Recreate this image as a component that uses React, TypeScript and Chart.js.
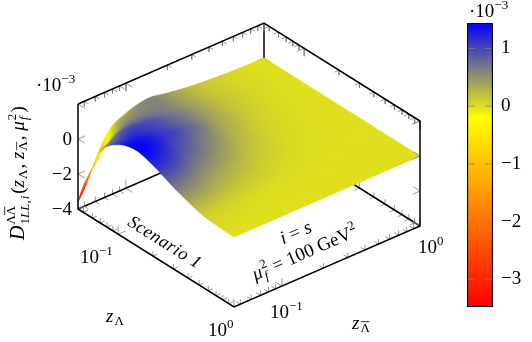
import React, { useEffect, useRef } from "react";
import { Chart, registerables } from "chart.js";

Chart.register(...registerables);

// ---- data ----
const zLambda = [0.045, 0.05, 0.06, 0.07, 0.08, 0.1, 0.12, 0.15, 0.2, 0.25, 0.3, 0.4, 0.5, 0.6, 0.8, 1];
const zBar = [0.045, 0.05, 0.06, 0.07, 0.08, 0.1, 0.12, 0.15, 0.2, 0.3, 0.4, 0.6, 1];
// D values (x 10^-3); one row per zLambda, one column per zBar
const row00 = [-3.6, -3.0, -1.65, -0.65, -0.08, 0.28, 0.48, 0.58, 0.4, 0.2, 0.12, 0.04, 0];
const row01 = [-2.5, -2.0, -0.9, -0.1, 0.28, 0.48, 0.56, 0.58, 0.42, 0.2, 0.12, 0.04, 0];
const row02 = [-1.1, -0.7, 0.0, 0.4, 0.58, 0.62, 0.62, 0.58, 0.42, 0.2, 0.12, 0.04, 0];
const row03 = [0.12, 0.3, 0.68, 0.8, 0.82, 0.78, 0.7, 0.6, 0.43, 0.21, 0.12, 0.04, 0];
const row04 = [0.62, 0.75, 0.95, 1.0, 0.98, 0.9, 0.78, 0.64, 0.45, 0.21, 0.12, 0.04, 0];
const row05 = [1.12, 1.15, 1.18, 1.12, 1.05, 0.93, 0.8, 0.66, 0.43, 0.2, 0.11, 0.03, 0];
const row06 = [1.36, 1.35, 1.3, 1.2, 1.1, 0.97, 0.83, 0.66, 0.4, 0.18, 0.09, 0.03, 0];
const row07 = [1.44, 1.4, 1.28, 1.15, 1.0, 0.85, 0.7, 0.55, 0.33, 0.14, 0.07, 0.02, 0];
const row08 = [1.2, 1.16, 1.05, 0.92, 0.8, 0.66, 0.54, 0.41, 0.24, 0.1, 0.05, 0.01, 0];
const row09 = [0.92, 0.89, 0.8, 0.7, 0.6, 0.49, 0.4, 0.3, 0.17, 0.07, 0.03, 0.01, 0];
const row10 = [0.68, 0.66, 0.59, 0.52, 0.44, 0.36, 0.29, 0.21, 0.12, 0.05, 0.02, 0.01, 0];
const row11 = [0.38, 0.37, 0.33, 0.29, 0.24, 0.19, 0.15, 0.11, 0.06, 0.02, 0.01, 0, 0];
const row12 = [0.17, 0.16, 0.14, 0.12, 0.1, 0.08, 0.06, 0.04, 0.02, 0.01, 0, 0, 0];
const row13 = [0.08, 0.07, 0.06, 0.05, 0.04, 0.03, 0.02, 0.01, 0.01, 0, 0, 0, 0];
const row14 = [0.02, 0.02, 0.01, 0.01, 0.01, 0.01, 0, 0, 0, 0, 0, 0, 0];
const row15 = [0, 0, 0, 0, 0, 0, 0, 0, 0, 0, 0, 0, 0];
const surfaceRows = [row00, row01, row02, row03, row04, row05, row06, row07, row08, row09, row10, row11, row12, row13, row14, row15];

const logMajorTicks = [0.1, 1];
const logMinorTicks = [0.05, 0.06, 0.07, 0.08, 0.09, 0.2, 0.3, 0.4, 0.5, 0.6, 0.7, 0.8, 0.9];
const dTicks = [-4, -2, 0, 2];
const colorbarTicks = [1, 0, -1, -2, -3];
const colorMin = -3.48;
const colorYellow = -0.2;
const colorMax = 1.44;

// ---- view of the 3D box ----
const SERIF = '"Liberation Serif", serif';
const LOG_MIN = Math.log10(0.045);
const D_MIN = -4;
const D_MAX = 2;
const VIEW = { ox: 78, oy: 209, ux: 156, uy: 98, vx: 186, vy: -81, dy: -17.5 };

const uOf = (z: number) => (Math.log10(z) - LOG_MIN) / -LOG_MIN;
function project(zl: number, zb: number, d: number) {
  const u = uOf(zl);
  const v = uOf(zb);
  return {
    x: VIEW.ox + VIEW.ux * u + VIEW.vx * v,
    y: VIEW.oy + VIEW.uy * u + VIEW.vy * v + VIEW.dy * (d - D_MIN),
  };
}

function colorOf(d: number): [number, number, number] {
  if (d <= colorYellow) {
    const t = Math.max(0, (d - colorMin) / (colorYellow - colorMin));
    return [255, 255 * t, 0];
  }
  const t = Math.min(1, (d - colorYellow) / (colorMax - colorYellow));
  return [255 * (1 - t), 255 * (1 - t), 255 * t];
}

type P = { x: number; y: number };
const GAP: P = { x: NaN, y: NaN };

function unit(a: P, b: P): P {
  const dx = b.x - a.x;
  const dy = b.y - a.y;
  const l = Math.hypot(dx, dy);
  return { x: dx / l, y: dy / l };
}

const ZMIN = 0.045;
const dirU = unit(project(ZMIN, ZMIN, 0), project(1, ZMIN, 0));
const dirV = unit(project(ZMIN, ZMIN, 0), project(ZMIN, 1, 0));
const dirD = { x: 0, y: -1 };
const neg = (p: P): P => ({ x: -p.x, y: -p.y });

function fork(out: P[], p: P, a: P, b: P, len: number) {
  out.push({ x: p.x + a.x * len, y: p.y + a.y * len }, p, { x: p.x + b.x * len, y: p.y + b.y * len }, GAP);
}

const MAJ = 8;
const MIN = 5;
function logTicks(out: P[], at: (t: number) => P, a: P, b: P) {
  logMajorTicks.forEach((t) => fork(out, at(t), a, b, MAJ));
  logMinorTicks.forEach((t) => fork(out, at(t), a, b, MIN));
}

function buildTicks() {
  const back: P[] = [];
  const front: P[] = [];
  logTicks(front, (t) => project(t, ZMIN, D_MIN), dirV, dirD);
  logTicks(front, (t) => project(1, t, D_MIN), neg(dirU), dirD);
  logTicks(front, (t) => project(ZMIN, t, D_MAX), dirU, neg(dirD));
  logTicks(front, (t) => project(t, 1, D_MAX), neg(dirV), neg(dirD));
  logTicks(back, (t) => project(ZMIN, t, D_MIN), dirU, dirD);
  logTicks(back, (t) => project(t, 1, D_MIN), neg(dirV), dirD);
  dTicks.forEach((d) => {
    fork(front, project(ZMIN, ZMIN, d), dirU, dirV, MAJ);
    fork(front, project(1, 1, d), neg(dirU), neg(dirV), MAJ);
    fork(back, project(ZMIN, 1, d), dirU, neg(dirV), MAJ);
  });
  return { back, front };
}

// ---- rich text ----
type Run = { t: string; i?: boolean; s?: number; dy?: number; noAdv?: boolean; sp?: number; bar?: boolean };
function font(r: Run, base: number) {
  return `${r.i ? "italic " : ""}${r.s ?? base}px ${SERIF}`;
}
function drawRuns(
  ctx: CanvasRenderingContext2D,
  x: number,
  y: number,
  deg: number,
  runs: Run[],
  base: number,
  anchor: "left" | "center" | "right" = "left",
  spacing = 0,
) {
  ctx.save();
  (ctx as any).letterSpacing = `${spacing}px`;
  let total = 0;
  runs.forEach((r) => {
    ctx.font = font(r, base);
    if (!r.noAdv) total += ctx.measureText(r.t).width + (r.sp ?? 0);
  });
  ctx.translate(x, y);
  ctx.rotate((deg * Math.PI) / 180);
  ctx.textBaseline = "alphabetic";
  ctx.textAlign = "left";
  ctx.fillStyle = "#000";
  let cx = anchor === "left" ? 0 : anchor === "center" ? -total / 2 : -total;
  runs.forEach((r) => {
    ctx.font = font(r, base);
    ctx.fillText(r.t, cx, r.dy ?? 0);
    const w = ctx.measureText(r.t).width;
    if (r.bar) {
      const size = r.s ?? base;
      ctx.fillRect(cx + 0.5, (r.dy ?? 0) - size * 0.82, w - 1, 0.8);
    }
    if (!r.noAdv) cx += w + (r.sp ?? 0);
  });
  ctx.restore();
}

const R = 19;
const S = 13;
const power = (e: string): Run[] => [{ t: "10" }, { t: e, s: S, dy: -8 }];

// Catmull-Rom along one index direction, clamped at the edges of the table
function cr(p0: number, p1: number, p2: number, p3: number, t: number) {
  return 0.5 * (2 * p1 + (p2 - p0) * t + (2 * p0 - 5 * p1 + 4 * p2 - p3) * t * t + (3 * p1 - p0 - 3 * p2 + p3) * t * t * t);
}

const SS = 3;
const surfacePlugin = {
  id: "surfaceShader",
  afterDatasetDraw(chart: any, args: any) {
    const ds = chart.data.datasets[args.index];
    if (ds.label !== "surface") return;
    const sx = chart.scales.x;
    const sy = chart.scales.y;
    const nodes = ds.data;
    const nc = zBar.length;
    const nr = zLambda.length;
    const N = 6;
    const clampR = (r: number) => Math.max(0, Math.min(nr - 1, r));
    const clampC = (c: number) => Math.max(0, Math.min(nc - 1, c));
    const val = (r: number, c: number, k: "x" | "y" | "d") => nodes[clampR(r) * nc + clampC(c)][k];
    const shade = (r: number, c: number, s: number, t: number, k: "x" | "y" | "d") => {
      const rowAt = (rr: number) => cr(val(rr, c - 1, k), val(rr, c, k), val(rr, c + 1, k), val(rr, c + 2, k), t);
      return cr(rowAt(r - 1), rowAt(r), rowAt(r + 1), rowAt(r + 2), s);
    };
    // Shaded in a larger layer, then scaled down, so cell borders do not show
    const layer = document.createElement("canvas");
    layer.width = chart.width * SS;
    layer.height = chart.height * SS;
    const ctx = layer.getContext("2d") as CanvasRenderingContext2D;
    ctx.scale(SS, SS);
    ctx.lineWidth = 0.7;
    ctx.lineJoin = "round";
    for (let r = 0; r < nr - 1; r++) {
      for (let i = 0; i < N; i++) {
        for (let c = nc - 2; c >= 0; c--) {
          for (let j = N - 1; j >= 0; j--) {
            const s0 = i / N;
            const s1 = (i + 1) / N;
            const t0 = j / N;
            const t1 = (j + 1) / N;
            const px = (s: number, t: number) => sx.getPixelForValue(shade(r, c, s, t, "x"));
            const py = (s: number, t: number) => sy.getPixelForValue(shade(r, c, s, t, "y"));
            const col = colorOf(shade(r, c, (s0 + s1) / 2, (t0 + t1) / 2, "d"));
            const css = `rgb(${col[0] | 0},${col[1] | 0},${col[2] | 0})`;
            ctx.fillStyle = css;
            ctx.strokeStyle = css;
            ctx.beginPath();
            ctx.moveTo(px(s0, t0), py(s0, t0));
            ctx.lineTo(px(s0, t1), py(s0, t1));
            ctx.lineTo(px(s1, t1), py(s1, t1));
            ctx.lineTo(px(s1, t0), py(s1, t0));
            ctx.closePath();
            ctx.fill();
            ctx.stroke();
          }
        }
      }
    }
    const out: CanvasRenderingContext2D = chart.ctx;
    out.save();
    out.imageSmoothingEnabled = true;
    out.imageSmoothingQuality = "high";
    out.drawImage(layer, 0, 0, chart.width, chart.height);
    out.restore();
  },
};

const labelPlugin = {
  id: "axisLabels",
  afterDraw(chart: any) {
    const ctx: CanvasRenderingContext2D = chart.ctx;
    dTicks.slice(0, 3).forEach((d) => {
      const p = project(ZMIN, ZMIN, d);
      const txt = d < 0 ? `\u2212${-d}` : `${d}`;
      drawRuns(ctx, p.x - 6, p.y + 6, 0, [{ t: txt }], R, "right");
    });
    drawRuns(ctx, 36, 91, 0, [{ t: "\u00B7", sp: 0 }, ...power("\u22123")], R);
    drawRuns(ctx, 80, 263, 0, power("\u22121"), R);
    drawRuns(ctx, 208, 336, 0, power("0"), R);
    drawRuns(ctx, 270, 318, 0, power("\u22121"), R);
    drawRuns(ctx, 418, 253, 0, power("0"), R);
    drawRuns(ctx, 106, 322, 0, [{ t: "z", i: true, sp: 1 }, { t: "\u039B", s: S, dy: 3 }], R);
    drawRuns(ctx, 352, 329, 0, [{ t: "z", i: true, sp: 1 }, { t: "\u039B", s: S, dy: 3, bar: true }], R);
    drawRuns(ctx, 162, 247, 32.1, [{ t: "Scenario 1", i: true }], 18, "center", 0.6);
    drawRuns(ctx, 298, 238, -23.5, [{ t: "i", i: true }, { t: " = " }, { t: "s", i: true }], R, "center");
    drawRuns(
      ctx,
      307,
      258,
      -23.5,
      [
        { t: "\u03BC", i: true, sp: 1 },
        { t: "2", s: S, dy: -8, noAdv: true },
        { t: "f", i: true, s: S, dy: 4, sp: 3 },
        { t: " = 100 GeV" },
        { t: "2", s: S, dy: -8 },
      ],
      R,
      "center",
    );
    drawRuns(
      ctx,
      24,
      240,
      -90,
      [
        { t: "D", i: true, s: 20, sp: 1 },
        { t: "\u039B", s: S, dy: -9, noAdv: true },
        { t: "1", s: S, dy: 5 },
        { t: "LL", i: true, s: S, dy: 5 },
        { t: ",", s: S, dy: 5, sp: 1 },
        { t: "i", i: true, s: S, dy: 5, sp: 2 },
        { t: "(" },
        { t: "z", i: true, sp: 1 },
        { t: "\u039B", s: S, dy: 3, sp: 1 },
        { t: ", " },
        { t: "z", i: true, sp: 1 },
        { t: "\u039B", s: S, dy: 3, sp: 1, bar: true },
        { t: ", " },
        { t: "\u03BC", i: true, sp: 1 },
        { t: "2", s: S, dy: -8, noAdv: true },
        { t: "f", i: true, s: S, dy: 4, sp: 4 },
        { t: ")" },
      ],
      R,
    );
    // second lambda of the superscript, with its bar
    ctx.save();
    ctx.translate(24, 240);
    ctx.rotate(-Math.PI / 2);
    drawRuns(ctx, 24.5, -9, 0, [{ t: "\u039B", s: S, bar: true }], R);
    ctx.restore();
  },
};

const colorbarPlugin = {
  id: "colorbarMarks",
  afterDatasetsDraw(chart: any) {
    const ctx: CanvasRenderingContext2D = chart.ctx;
    const sy = chart.scales.y;
    const { left, right } = chart.chartArea;
    ctx.save();
    ctx.strokeStyle = "#808080";
    ctx.lineWidth = 0.8;
    colorbarTicks.forEach((t) => {
      const y = sy.getPixelForValue(t);
      ctx.beginPath();
      ctx.moveTo(left + 1, y);
      ctx.lineTo(left + 8, y);
      ctx.moveTo(right - 8, y);
      ctx.lineTo(right - 1, y);
      ctx.stroke();
    });
    ctx.restore();
    drawRuns(ctx, 29, 17, 0, [{ t: "\u00B7", sp: 0 }, ...power("\u22123")], R);
  },
};

export default function App() {
  const mainRef = useRef<HTMLCanvasElement>(null);
  const barRef = useRef<HTMLCanvasElement>(null);

  useEffect(() => {
    const nodes: any[] = [];
    zLambda.forEach((zl, r) =>
      zBar.forEach((zb, c) => {
        const d = surfaceRows[r][c];
        nodes.push({ ...project(zl, zb, d), d });
      }),
    );
    const { back, front } = buildTicks();
    const corner = (zl: number, zb: number, d: number) => project(zl, zb, d);
    const backEdges = [
      corner(ZMIN, ZMIN, D_MIN), corner(ZMIN, 1, D_MIN), corner(1, 1, D_MIN), GAP,
      corner(ZMIN, 1, D_MIN), corner(ZMIN, 1, D_MAX),
    ];
    const frontEdges = [
      corner(ZMIN, ZMIN, D_MAX), corner(ZMIN, ZMIN, D_MIN), corner(1, ZMIN, D_MIN), corner(1, 1, D_MIN), corner(1, 1, D_MAX),
      corner(ZMIN, 1, D_MAX), corner(ZMIN, ZMIN, D_MAX),
    ];
    const lineDs = (label: string, data: P[], color: string, width: number) => ({
      label,
      data,
      showLine: true,
      borderColor: color,
      borderWidth: width,
      pointRadius: 0,
      tension: 0,
      spanGaps: false,
      fill: false,
    });
    const main = new Chart(mainRef.current as HTMLCanvasElement, {
      type: "scatter",
      data: {
        datasets: [
          lineDs("frontEdges", frontEdges, "#000", 1.5),
          lineDs("frontTicks", front, "#808080", 0.8),
          { label: "surface", data: nodes, pointRadius: 0, showLine: false },
          lineDs("backEdges", backEdges, "#000", 1.5),
          lineDs("backTicks", back, "#808080", 0.8),
        ] as any,
      },
      options: {
        responsive: false,
        animation: false,
        layout: { padding: 0 },
        plugins: { legend: { display: false }, tooltip: { enabled: false } },
        scales: {
          x: { type: "linear", min: 0, max: 532, display: false },
          y: { type: "linear", min: 0, max: 342, reverse: true, display: false },
        },
      },
      plugins: [surfacePlugin, labelPlugin],
    } as any);

    const gradientFor = (c: any) => {
      const area = c.chart.chartArea;
      if (!area) return "#000";
      const g = c.chart.ctx.createLinearGradient(0, area.bottom, 0, area.top);
      g.addColorStop(0, "rgb(255,0,0)");
      g.addColorStop((colorYellow - colorMin) / (colorMax - colorMin), "rgb(255,255,0)");
      g.addColorStop(1, "rgb(0,0,255)");
      return g;
    };
    const bar = new Chart(barRef.current as HTMLCanvasElement, {
      type: "bar",
      data: {
        labels: ["D"],
        datasets: [
          {
            data: [[colorMin, colorMax]],
            backgroundColor: gradientFor,
            borderColor: "#000",
            borderWidth: 1.5,
            borderSkipped: false,
            barPercentage: 1,
            categoryPercentage: 1,
          },
        ] as any,
      },
      options: {
        responsive: false,
        animation: false,
        layout: { padding: { top: 23, bottom: 35, left: 27, right: 0 } },
        plugins: { legend: { display: false }, tooltip: { enabled: false } },
        scales: {
          x: { display: false },
          y: {
            position: "right",
            min: colorMin,
            max: colorMax,
            border: { display: false },
            grid: { display: false, drawTicks: false },
            afterBuildTicks: (s: any) => {
              s.ticks = colorbarTicks.map((value) => ({ value }));
            },
            afterFit: (s: any) => {
              s.width = 39;
            },
            ticks: {
              padding: 8,
              color: "#000",
              font: { family: SERIF, size: R },
              callback: (v: any) => (v < 0 ? `\u2212${-v}` : `${v}`),
            },
          },
        },
      },
      plugins: [colorbarPlugin],
    } as any);
    return () => {
      main.destroy();
      bar.destroy();
    };
  }, []);

  return (
    <div style={{ position: "absolute", left: 0, top: 0, width: 532, height: 342, overflow: "hidden", background: "#fff" }}>
      <canvas ref={mainRef} width={532} height={342} style={{ position: "absolute", left: 0, top: 0 }} />
      <canvas ref={barRef} width={92} height={342} style={{ position: "absolute", left: 440, top: 0 }} />
    </div>
  );
}
